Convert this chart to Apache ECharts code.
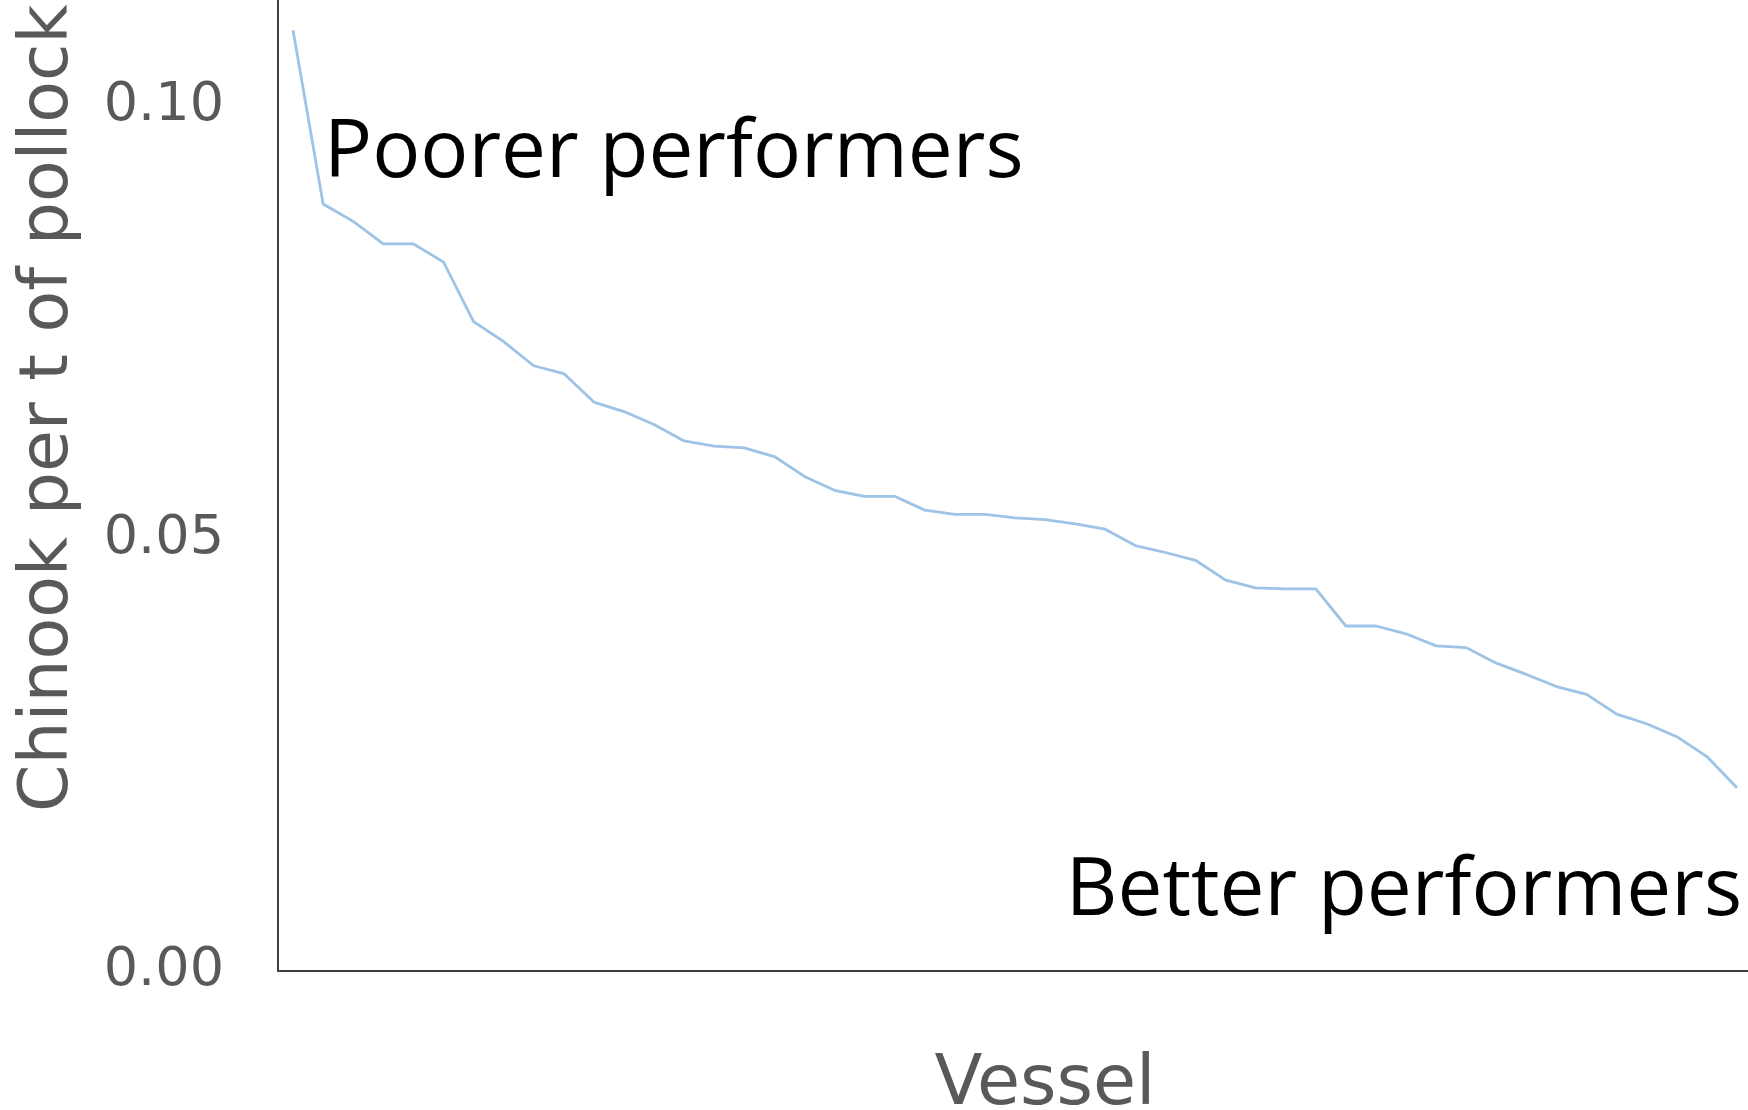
<!DOCTYPE html>
<html>
<head>
<meta charset="utf-8">
<script src="https://cdn.jsdelivr.net/npm/echarts@6/dist/echarts.min.js"></script>
<style>
  html, body { margin: 0; padding: 0; background: #ffffff; }
  #chart { width: 1748px; height: 1110px; }
</style>
</head>
<body>
<div id="chart"></div>
<script>
// vessels ranked from worst to best bycatch rate
const vessels = [
  '1', '2', '3', '4', '5', '6', '7', '8', '9', '10',
  '11', '12', '13', '14', '15', '16', '17', '18', '19', '20',
  '21', '22', '23', '24', '25', '26', '27', '28', '29', '30',
  '31', '32', '33', '34', '35', '36', '37', '38', '39', '40',
  '41', '42', '43', '44', '45', '46', '47', '48', '49'
];

// Chinook per t of pollock
const chinookRate = [
  0.1088, 0.0887, 0.0867, 0.0841, 0.0841, 0.0820, 0.0751, 0.0728, 0.0700, 0.0691,
  0.0658, 0.0647, 0.0632, 0.0613, 0.0607, 0.0605, 0.0595, 0.0572, 0.0556, 0.0549,
  0.0549, 0.0533, 0.0528, 0.0528, 0.0524, 0.0522, 0.0517, 0.0511, 0.0492, 0.0484,
  0.0475, 0.0452, 0.0443, 0.0442, 0.0442, 0.0399, 0.0399, 0.0390, 0.0376, 0.0374,
  0.0356, 0.0343, 0.0329, 0.0320, 0.0297, 0.0286, 0.0271, 0.0248, 0.0212
];

const yTicks = [0, 0.05, 0.10];

const axisColor = '#404040';
const labelColor = '#595959';
const lineColor = '#9dc3e6';

const chart = echarts.init(document.getElementById('chart'));

chart.setOption({
  animation: false,
  backgroundColor: '#ffffff',
  grid: { left: 278, right: -4, top: 0, bottom: 139, outerBoundsMode: 'none', containLabel: false },
  xAxis: {
    type: 'category',
    data: vessels,
    boundaryGap: true,
    name: 'Vessel',
    nameLocation: 'middle',
    nameGap: 80,
    nameTextStyle: {
      fontFamily: 'DejaVu Sans',
      fontSize: 70,
      color: labelColor,
      padding: [0, 0, 0, 60]
    },
    axisLine: { lineStyle: { color: axisColor, width: 2 } },
    axisTick: { show: false },
    axisLabel: { show: false },
    splitLine: { show: false }
  },
  yAxis: {
    type: 'value',
    min: yTicks[0],
    max: 0.1123,
    interval: yTicks[1] - yTicks[0],
    axisLine: { show: true, lineStyle: { color: axisColor, width: 2 } },
    axisTick: { show: false },
    splitLine: { show: false },
    axisLabel: {
      showMaxLabel: false,
      margin: 54,
      fontFamily: 'DejaVu Sans',
      fontSize: 54,
      color: labelColor,
      padding: [11, 0, 0, 0],
      formatter: (v) => v.toFixed(2)
    }
  },
  series: [{
    type: 'line',
    data: chinookRate,
    symbol: 'none',
    lineStyle: { color: lineColor, width: 2.8 }
  }],
  graphic: [
    {
      type: 'text',
      x: 49,
      y: 812,
      rotation: Math.PI / 2,
      style: {
        text: 'Chinook per t of pollock',
        font: '68px "DejaVu Sans"',
        fill: labelColor,
        align: 'left',
        verticalAlign: 'middle'
      }
    },
    {
      type: 'text',
      x: 324,
      y: 154,
      style: {
        text: 'Poorer performers',
        font: '80px "Open Sans"',
        fill: '#000000',
        align: 'left',
        verticalAlign: 'middle'
      }
    },
    {
      type: 'text',
      x: 1742,
      y: 892,
      style: {
        text: 'Better performers',
        font: '80px "Open Sans"',
        fill: '#000000',
        align: 'right',
        verticalAlign: 'middle'
      }
    }
  ]
});
</script>
</body>
</html>
